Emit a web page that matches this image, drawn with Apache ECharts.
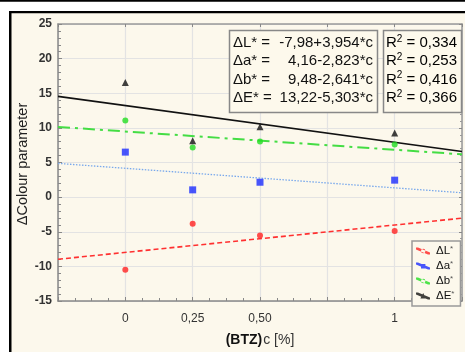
<!DOCTYPE html>
<html><head><meta charset="utf-8">
<script src="https://cdn.jsdelivr.net/npm/echarts@6/dist/echarts.min.js"></script>
<style>html,body{margin:0;padding:0;background:#fff}#c{width:465px;height:352px}</style>
</head><body><div id="c"></div>
<script>
// ---- data ----
const xValues = [0, 0.25, 0.5, 1];
const dL = [-10.5, -3.85, -5.55, -4.9];
const dA = [6.5, 1.05, 2.15, 2.45];
const dB = [11.05, 7.15, 8.05, 7.6];
const dE = [16.55, 8.15, 10.15, 9.25];
// regression line endpoints read at x = -0.25 and x = 1.25
const lineX = [-0.25, 1.25];
const lineL = [-8.97, -3.04];
const lineA = [4.87, 0.63];
const lineB = [10.14, 6.18];
const lineE = [14.55, 6.59];
const xTickValues = [0, 0.25, 0.5, 1];
const xTickLabels = ['0', '0,25', '0,50', '1'];
const seriesNames = ['ΔL*', 'Δa*', 'Δb*', 'ΔE*'];
const eqLeft = ['ΔL* =', 'Δa* =', 'Δb* =', 'ΔE* ='];
const eqRight = ['-7,98+3,954*c', '4,16-2,823*c', '9,48-2,641*c', '13,22-5,303*c'];
const r2Values = ['0,334', '0,253', '0,416', '0,366'];
const yTitle = 'ΔColour parameter';

const colors = ['#ff2222', '#1a2cff', '#22dd22', '#111111'];
const lineColors = ['#ff3030', '#78a8ec', '#44dd44', '#111111'];
const symbols = ['circle', 'rect', 'circle', 'triangle'];
const symSizes = [6, 7, 6, 7];
const lineTypes = [[5, 3], [1.5, 1.5], [12, 5, 3, 5], 'solid'];
const lineWidths = [1.6, 1.3, 2, 1.6];
const lineData = [lineL, lineA, lineB, lineE];
const pointData = [dL, dA, dB, dE];

const F = 'Liberation Sans, Arial, sans-serif';
const chart = echarts.init(document.getElementById('c'), null, {renderer: 'canvas'});

const series = [];
for (let i = 0; i < 4; i++) {
  series.push({
    name: seriesNames[i] + 'line', type: 'line', silent: true,
    data: lineX.map((x, k) => [x, lineData[i][k]]),
    showSymbol: false, symbol: 'none',
    lineStyle: {color: lineColors[i], width: lineWidths[i], type: lineTypes[i]},
    z: 2
  });
}
for (let i = 0; i < 4; i++) {
  series.push({
    name: seriesNames[i], type: 'scatter',
    data: xValues.map((x, k) => [x, pointData[i][k]]),
    symbol: symbols[i], symbolSize: symSizes[i],
    itemStyle: {color: colors[i]},
    z: 5
  });
}

const iconLine = 'M0,2 L2,2 L14,7 L14,9 L12,9 L0,4 Z';
const icons = [
  'path://' + iconLine + ' M5,5.5 a2.2,2.2 0 1,0 4.4,0 a2.2,2.2 0 1,0 -4.4,0 Z',
  'path://' + iconLine + ' M5,3.5 h4.4 v4.4 h-4.4 Z',
  'path://' + iconLine + ' M5,5.5 a2.2,2.2 0 1,0 4.4,0 a2.2,2.2 0 1,0 -4.4,0 Z',
  'path://' + iconLine + ' M7.2,2.5 L10,8 L4.4,8 Z'
];

const graphics = [
  {type: 'rect', shape: {x: 0, y: 0, width: 465, height: 352}, style: {fill: '#ffffff'}, z: -10, silent: true},
  {type: 'rect', shape: {x: 11, y: 12, width: 454, height: 340}, style: {fill: '#fcf8ec'}, z: -9, silent: true},
  {type: 'rect', shape: {x: 0, y: 0, width: 465, height: 1.7}, style: {fill: '#000'}, z: -8, silent: true},
  {type: 'rect', shape: {x: 9, y: 11, width: 456, height: 2.2}, style: {fill: '#000'}, z: -8, silent: true},
  {type: 'rect', shape: {x: 9, y: 11, width: 2.5, height: 341}, style: {fill: '#000'}, z: -8, silent: true},
  // y axis title
  {type: 'text', x: 23, y: 164, rotation: Math.PI / 2, z: 10,
   style: {text: yTitle, x: 0, y: 0, align: 'center', verticalAlign: 'middle', font: '14.5px ' + F, fill: '#222'}},
  // equation boxes
  {type: 'rect', shape: {x: 229.5, y: 30.5, width: 148, height: 82}, style: {fill: '#fdf9ec', stroke: '#888', lineWidth: 1.5}, z: 20},
  {type: 'rect', shape: {x: 383.5, y: 30.5, width: 78, height: 82}, style: {fill: '#fdf9ec', stroke: '#888', lineWidth: 1.5}, z: 20}
];
const lineCY = [43, 61.3, 79.6, 97.9];
for (let i = 0; i < 4; i++) {
  graphics.push({type: 'text', z: 21, style: {text: eqLeft[i], x: 233, y: lineCY[i], verticalAlign: 'middle', align: 'left', font: '15px ' + F, fill: '#111'}});
  graphics.push({type: 'text', z: 21, style: {text: eqRight[i], x: 373, y: lineCY[i], verticalAlign: 'middle', align: 'right', font: '15px ' + F, fill: '#111'}});
  graphics.push({type: 'text', z: 21, style: {
    text: '{a|R}{s|2}{a| = ' + r2Values[i] + '}', x: 386, y: lineCY[i], verticalAlign: 'middle', align: 'left',
    rich: {a: {fontSize: 15, fontFamily: F, color: '#111', lineHeight: 18}, s: {fontSize: 10, fontFamily: F, color: '#111', padding: [0, 0, 8, 0], lineHeight: 18}}
  }});
}

chart.setOption({
  animation: false,
  textStyle: {fontFamily: F},
  grid: {left: 58, right: 2, top: 24, bottom: 47, containLabel: false},
  legend: {
    show: true, orient: 'vertical', left: 412, top: 241,
    data: seriesNames.map((n, i) => ({name: n, icon: icons[i]})),
    itemWidth: 14, itemHeight: 11, itemGap: 3, padding: [4, 6, 4, 4],
    backgroundColor: '#fcf8ec', borderColor: '#999', borderWidth: 1.5,
    formatter: n => '{a|' + n.slice(0, 2) + '}{s|*}',
    textStyle: {fontSize: 11, fontFamily: F, color: '#111', padding: [0, 0, 0, 1],
      rich: {a: {fontSize: 11.5, fontFamily: F, color: '#111'}, s: {fontSize: 8, fontFamily: F, color: '#555', padding: [0, 0, 4, 0]}}},
    selectedMode: false
  },
  xAxis: [{
    type: 'value', min: -0.25, max: 1.25, interval: 0.25, position: 'bottom',
    axisLine: {show: true, onZero: false, lineStyle: {color: '#888', width: 1.5}},
    axisTick: {show: true, inside: true, length: 4, lineStyle: {color: '#888'}},
    minorTick: {show: true, splitNumber: 4, length: 3, lineStyle: {color: '#888'}},
    splitLine: {show: true, lineStyle: {color: '#e3e3e3', width: 1.2}},
    axisLabel: {
      fontSize: 12, color: '#333', margin: 12, fontFamily: F,
      formatter: v => { const k = xTickValues.findIndex(t => Math.abs(t - v) < 1e-6); return k >= 0 ? xTickLabels[k] : ''; }
    },
    name: '{b|(BTZ)}{n|c [%]}', nameLocation: 'middle', nameGap: 32,
    nameTextStyle: {rich: {b: {fontSize: 14, fontWeight: 'bold', fontFamily: F, color: '#111'}, n: {fontSize: 14, fontFamily: F, color: '#333', padding: [0, 0, 0, 1]}}}
  }, {
    type: 'value', min: -0.25, max: 1.25, interval: 0.25, position: 'top',
    axisLine: {show: true, onZero: false, lineStyle: {color: '#999', width: 1.5}},
    axisTick: {show: true, inside: true, length: 3, lineStyle: {color: '#888'}},
    minorTick: {show: false},
    splitLine: {show: false}, axisLabel: {show: false}
  }],
  yAxis: [{
    type: 'value', min: -15, max: 25, interval: 5, position: 'left',
    axisLine: {show: true, onZero: false, lineStyle: {color: '#888', width: 1.5}},
    axisTick: {show: true, inside: true, length: 4, lineStyle: {color: '#888'}},
    minorTick: {show: true, splitNumber: 5, length: 3, lineStyle: {color: '#888'}},
    splitLine: {show: true, lineStyle: {color: '#e3e3e3', width: 1.2}},
    axisLabel: {fontSize: 12, color: '#333', margin: 6, fontFamily: F, fontWeight: 'bold'}
  }, {
    type: 'value', min: -15, max: 25, interval: 5, position: 'right',
    axisLine: {show: true, onZero: false, lineStyle: {color: '#999', width: 1.5}},
    axisTick: {show: true, inside: true, length: 3, lineStyle: {color: '#888'}},
    minorTick: {show: true, splitNumber: 5, length: 2, lineStyle: {color: '#999'}},
    splitLine: {show: false}, axisLabel: {show: false}
  }],
  graphic: graphics,
  series: series
});
</script></body></html>
